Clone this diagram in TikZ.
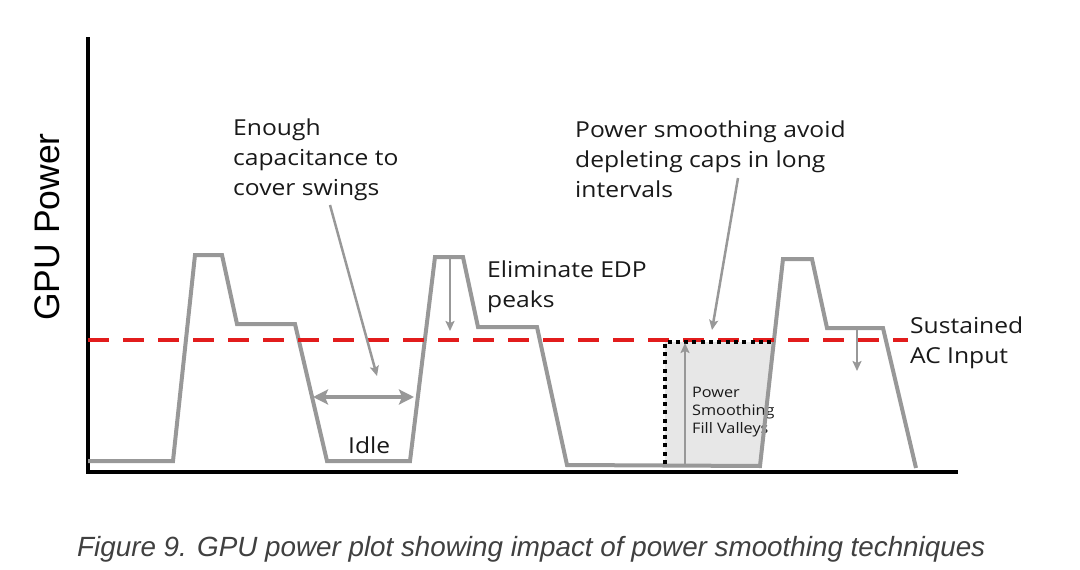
\documentclass[tikz,border=0pt]{standalone}
\usepackage{fontspec}
\setmainfont{Open Sans}[FakeStretch=1.12]
\newfontfamily\arialfont{Liberation Sans}
\usetikzlibrary{arrows.meta}

\definecolor{wavegray}{RGB}{152,152,152}
\definecolor{acred}{RGB}{226,28,28}
\definecolor{fillgray}{RGB}{231,231,231}

\begin{document}
\begin{tikzpicture}
      [x=1pt,y=-1pt,%%%%%%%%%%%%%%%%%%%%%%%%%%%%%%
      axis/.style={line width=4.5pt,black},
      wave/.style={line width=4pt,wavegray,line join=miter},
      acline/.style={line width=4pt,acred,dash pattern=on 21pt off 14pt},
      valleyline/.style={line width=4pt,black,dash pattern=on 4pt off 4.3pt},
      pointer/.style={line width=2.5pt,wavegray,-{Stealth[length=10pt,width=9pt,inset=2pt]}},
      span/.style={line width=4pt,wavegray,{Stealth[length=15pt,width=15pt,inset=3pt]}-{Stealth[length=15pt,width=15pt,inset=3pt]}},
      note/.style={font=\fontsize{22}{30}\selectfont,text=black!90,align=left,inner sep=0pt,anchor=base west},
      smallnote/.style={font=\fontsize{14.5}{18}\selectfont,text=black!90,align=left,inner sep=0pt,anchor=base west},
      ]%%%%%%%%%%%%%%%%%%%%%%%%%%%%%%
      \useasboundingbox (0,0) rectangle (1080,570);

      % valley filled by power smoothing (base = last line)
      \fill[fillgray] (665,342) -- (774,342) -- (760,466) -- (665,466) -- cycle;
      \node[smallnote] (fill) at (692,433) {Power\\Smoothing\\Fill Valleys};

      % axes
      \draw[axis] (88,37) -- (88,472) -- (958,472);
      \node[font=\arialfont\fontsize{35.5}{40}\selectfont,rotate=90,inner sep=0pt] (ylabel) at (47,227) {GPU Power};

      % power trace
      \draw[wave] (88,461) -- (173,461) -- (195,255) -- (222,255) -- (237,324) -- (295,324)
            -- (327,461) -- (410,461) -- (435,257) -- (463,257) -- (478,327) -- (537,327)
            -- (567,465) -- (760,466) -- (783,259) -- (812,259) -- (827,328) -- (883,328)
            -- (916,468);

      % sustained AC input
      \coordinate (acstart) at (88,340);
      \coordinate (acend) at (908,340);
      \draw[acline] (acstart) -- (acend);

      % dotted valley outline
      \coordinate (vbot) at (665,464);
      \coordinate (vtop) at (665,342);
      \coordinate (vright) at (772,342);
      \draw[valleyline] (vbot) -- (vtop) -- (vright);
      \coordinate (fillfoot) at (685,465);
      \coordinate (fillhead) at (685,343);
      \draw[pointer] (fillfoot) -- (fillhead);

      % labels (base = last line)
      \node[note] (caps) at (233,195) {Enough\\capacitance to\\cover swings};
      \node[note] (avoid) at (575,197) {Power smoothing avoid\\depleting caps in long\\intervals};
      \node[note] (edp) at (487,307) {Eliminate EDP\\peaks};
      \node[note] (acin) at (910,363) {Sustained\\AC Input};
      \node[note] (idle) at (348,453) {Idle};

      % pointers
      \coordinate (capsfoot) at (330,205);
      \coordinate (capshead) at (377,376);
      \draw[pointer] (capsfoot) -- (capshead);
      \coordinate (avoidfoot) at (738,178);
      \coordinate (avoidhead) at (712,330);
      \draw[pointer] (avoidfoot) -- (avoidhead);
      \coordinate (edpfoot) at (450,257);
      \coordinate (edphead) at (450,331);
      \draw[pointer] (edpfoot) -- (edphead);
      \coordinate (lastfoot) at (857,328);
      \coordinate (lasthead) at (857,371);
      \draw[pointer] (lastfoot) -- (lasthead);
      \coordinate (idleleft) at (313,397);
      \coordinate (idleright) at (414,397);
      \draw[span] (idleleft) -- (idleright);

      % caption
      \node[font=\arialfont\itshape\fontsize{27.8}{32}\selectfont,text=black!75,inner sep=0pt,anchor=base west] (caption) at (77,556)
            {Figure 9. GPU power plot showing impact of power smoothing techniques};
    \end{tikzpicture}
\end{document}
